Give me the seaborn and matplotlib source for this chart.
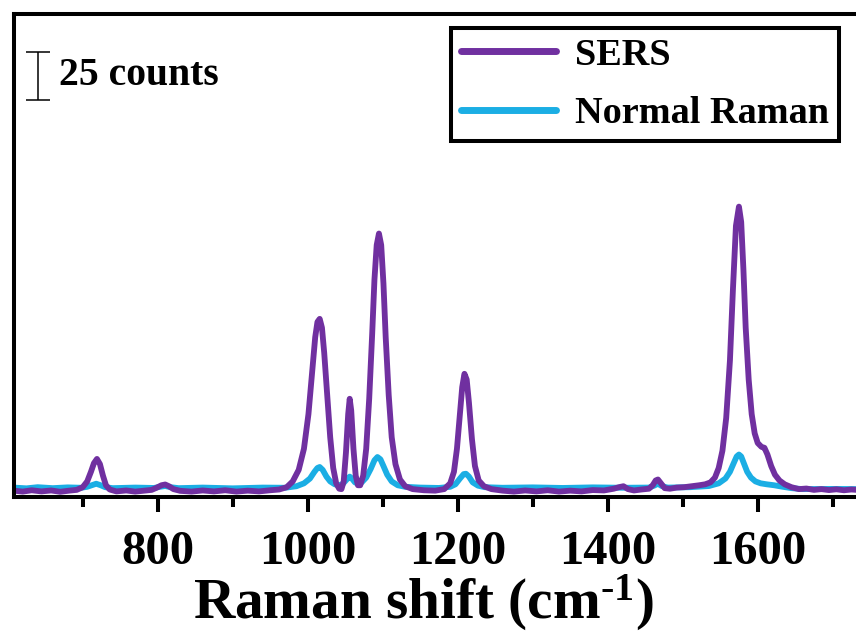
import pandas as pd
import seaborn as sns
import matplotlib.pyplot as plt
from matplotlib.ticker import MultipleLocator
from matplotlib.lines import Line2D

# spectra (Raman shift in cm-1, intensity in counts)
sers_shift = [608, 620, 632, 645, 658, 670, 682, 692, 700, 706, 711, 715, 719, 723, 727, 731, 736,
              745, 758, 770, 782, 792, 799, 805, 810, 815, 821, 830, 845, 860, 875, 890, 905, 920,
              935, 950, 962, 972, 980, 988, 995, 1001, 1006, 1010, 1013, 1016, 1019, 1022, 1026,
              1030, 1034, 1038, 1042, 1045, 1048, 1051, 1054, 1056, 1058, 1061, 1064, 1067, 1070,
              1074, 1078, 1082, 1086, 1089, 1092, 1095, 1098, 1101, 1104, 1108, 1112, 1117, 1123,
              1130, 1140, 1155, 1170, 1182, 1190, 1195, 1199, 1203, 1206, 1209, 1212, 1215, 1219,
              1223, 1228, 1235, 1245, 1260, 1275, 1290, 1305, 1320, 1335, 1350, 1365, 1380, 1395,
              1408, 1415, 1421, 1427, 1435, 1445, 1455, 1460, 1464, 1467, 1471, 1476, 1483, 1492,
              1502, 1512, 1522, 1530, 1537, 1543, 1548, 1553, 1558, 1563, 1567, 1571, 1575, 1578,
              1581, 1584, 1588, 1592, 1596, 1600, 1605, 1609, 1613, 1618, 1623, 1629, 1636, 1645,
              1655, 1665, 1675, 1685, 1695, 1705, 1715, 1725, 1736]
sers_counts = [0.2, -0.3, 0.4, -0.2, 0.3, -0.4, 0.2, 0.6, 2.0, 5.0, 10.0, 14.5, 16.7, 14.0, 8.0, 3.0, 0.8,
               -0.2, 0.3, -0.3, 0.2, 0.6, 1.8, 3.0, 3.4, 2.5, 1.0, 0.1, -0.3, 0.3, -0.2, 0.4, -0.3, 0.2,
               -0.2, 0.4, 0.8, 2.0, 5.0, 11.0, 22.0, 40.0, 62.0, 80.0, 88.0, 89.6, 85.0, 72.0, 50.0,
               28.0, 12.0, 4.0, 1.2, 1.0, 5.0, 20.0, 40.0, 48.0, 42.0, 22.0, 8.0, 3.0, 3.0,
               8.0, 22.0, 48.0, 82.0, 110.0, 128.0, 134.0, 128.0, 108.0, 80.0, 50.0, 28.0, 14.0, 6.0,
               2.5, 1.0, 0.4, 0.2, 1.0, 4.0, 10.0, 22.0, 40.0, 54.0, 61.0, 58.0, 46.0, 27.0,
               13.0, 5.5, 2.5, 1.0, 0.2, -0.3, 0.3, -0.2, 0.4, -0.3, 0.2, -0.2, 0.5, 0.3,
               1.2, 2.0, 2.5, 1.0, 0.3, 0.8, 1.2, 3.0, 5.5, 6.0, 4.0, 1.5, 1.2, 1.8,
               2.0, 2.5, 3.0, 3.5, 4.5, 7.0, 12.0, 21.0, 38.0, 68.0, 105.0, 138.0, 148.0, 140.0,
               115.0, 85.0, 58.0, 40.0, 30.0, 25.0, 23.0, 22.5, 19.0, 13.0, 8.5, 5.5, 3.5, 2.0,
               1.0, 1.3, 0.6, 1.0, 0.5, 0.9, 0.4, 0.8, 0.5]

normal_shift = [608, 625, 640, 660, 680, 698, 706, 712, 718, 724, 730, 740, 770, 795, 803, 810, 817,
                828, 860, 900, 940, 970, 985, 995, 1003, 1009, 1013, 1016, 1020, 1025, 1030, 1036,
                1042, 1047, 1052, 1056, 1059, 1063, 1067, 1072, 1078, 1084, 1089, 1093, 1097, 1101,
                1106, 1112, 1120, 1130, 1150, 1175, 1190, 1197, 1203, 1208, 1211, 1215, 1220, 1227,
                1236, 1260, 1300, 1340, 1380, 1420, 1455, 1462, 1467, 1472, 1480, 1510, 1535, 1548,
                1557, 1563, 1568, 1572, 1575, 1578, 1582, 1586, 1591, 1597, 1604, 1612, 1622, 1632,
                1645, 1660, 1700, 1736]
normal_counts = [1.8, 1.4, 2.0, 1.5, 1.9, 1.7, 2.2, 3.0, 3.8, 3.0, 2.0, 1.5, 1.8, 1.6, 2.2, 2.6, 2.0,
                 1.5, 1.8, 1.4, 1.8, 1.7, 2.5, 4.0, 6.5, 10.0, 12.0, 12.5, 11.0, 7.5, 5.0, 3.5,
                 3.0, 3.8, 6.0, 7.5, 6.5, 4.5, 3.8, 4.5, 7.0, 11.5, 16.0, 17.7, 16.5, 13.0,
                 8.5, 5.0, 3.0, 2.2, 1.8, 1.6, 2.2, 3.5, 6.5, 8.8, 9.0, 7.5, 4.5, 2.8,
                 2.0, 1.7, 1.9, 1.6, 1.9, 1.7, 1.8, 2.8, 3.8, 2.6, 1.8, 2.0, 2.6, 4.0,
                 6.5, 10.0, 14.5, 18.0, 19.0, 18.0, 14.0, 10.0, 7.0, 5.0, 4.0, 3.5, 3.0, 2.3,
                 1.5, 1.0, 1.1, 1.0]

series_names = ['SERS', 'Normal Raman']
series_colors = ['#7030A0', '#1BAEE4']

sns.set_style('ticks')
plt.rcParams['font.family'] = ['Liberation Serif', 'DejaVu Serif']
plt.rcParams['font.weight'] = 'bold'
plt.rcParams['text.color'] = 'black'
plt.rcParams['axes.labelcolor'] = 'black'
plt.rcParams['xtick.color'] = 'black'
plt.rcParams['mathtext.fontset'] = 'custom'
plt.rcParams['mathtext.rm'] = 'Liberation Serif:bold'
plt.rcParams['mathtext.bf'] = 'Liberation Serif:bold'
plt.rcParams['mathtext.it'] = 'Liberation Serif:bold'

fig = plt.figure(figsize=(8.56, 6.37), dpi=100)
ax = fig.add_axes([0.01636, 0.2198, 0.9883, 0.7575])

# normal raman first so the SERS trace sits on top
sns.lineplot(x=normal_shift, y=normal_counts, color=series_colors[1], lw=4.2,
             sort=False, ax=ax, legend=False)
sns.lineplot(x=sers_shift, y=sers_counts, color=series_colors[0], lw=4.2,
             sort=False, ax=ax, legend=False)

ax.set_xlim(608.4, 1736.4)
ax.set_ylim(-3.1, 248)
ax.set_yticks([])
ax.set_ylabel('')
ax.xaxis.set_major_locator(MultipleLocator(200))
ax.xaxis.set_minor_locator(MultipleLocator(100))
ax.tick_params(axis='x', which='major', direction='out', length=11, width=2.9,
               labelsize=35, pad=13, color='black', labelcolor='black')
ax.tick_params(axis='x', which='minor', direction='out', length=7, width=2.9, color='black')
for s in ax.spines.values():
    s.set_linewidth(2.9)
    s.set_color('black')

ax.set_xlabel(r'Raman shift (cm$^{\text{-}1}$)', fontsize=41.2, fontweight='bold',
              color='black')
ax.xaxis.set_label_coords(0.4835, -0.158)

# 25 counts scale bar
ax.errorbar([641], [216], yerr=[12.5], color='black', lw=1.1, capsize=8.6, capthick=1.1)
ax.text(669, 216, '25 counts', fontsize=28.5, fontweight='bold', va='center', ha='left',
        color='black')

handles = [Line2D([], [], color=c, lw=5) for c in series_colors]
leg = ax.legend(handles, series_names, loc='upper left',
                bbox_to_anchor=(451 / 856, 1 - 28 / 637), bbox_transform=fig.transFigure,
                borderaxespad=0, fontsize=27.5, frameon=True, fancybox=False,
                edgecolor='black', framealpha=1, handlelength=2.5, handletextpad=0.5,
                borderpad=0.25, labelspacing=0.62)
leg.get_frame().set_linewidth(2.9)
for t in leg.get_texts():
    t.set_color('black')

plt.savefig('out.png', dpi=100)
